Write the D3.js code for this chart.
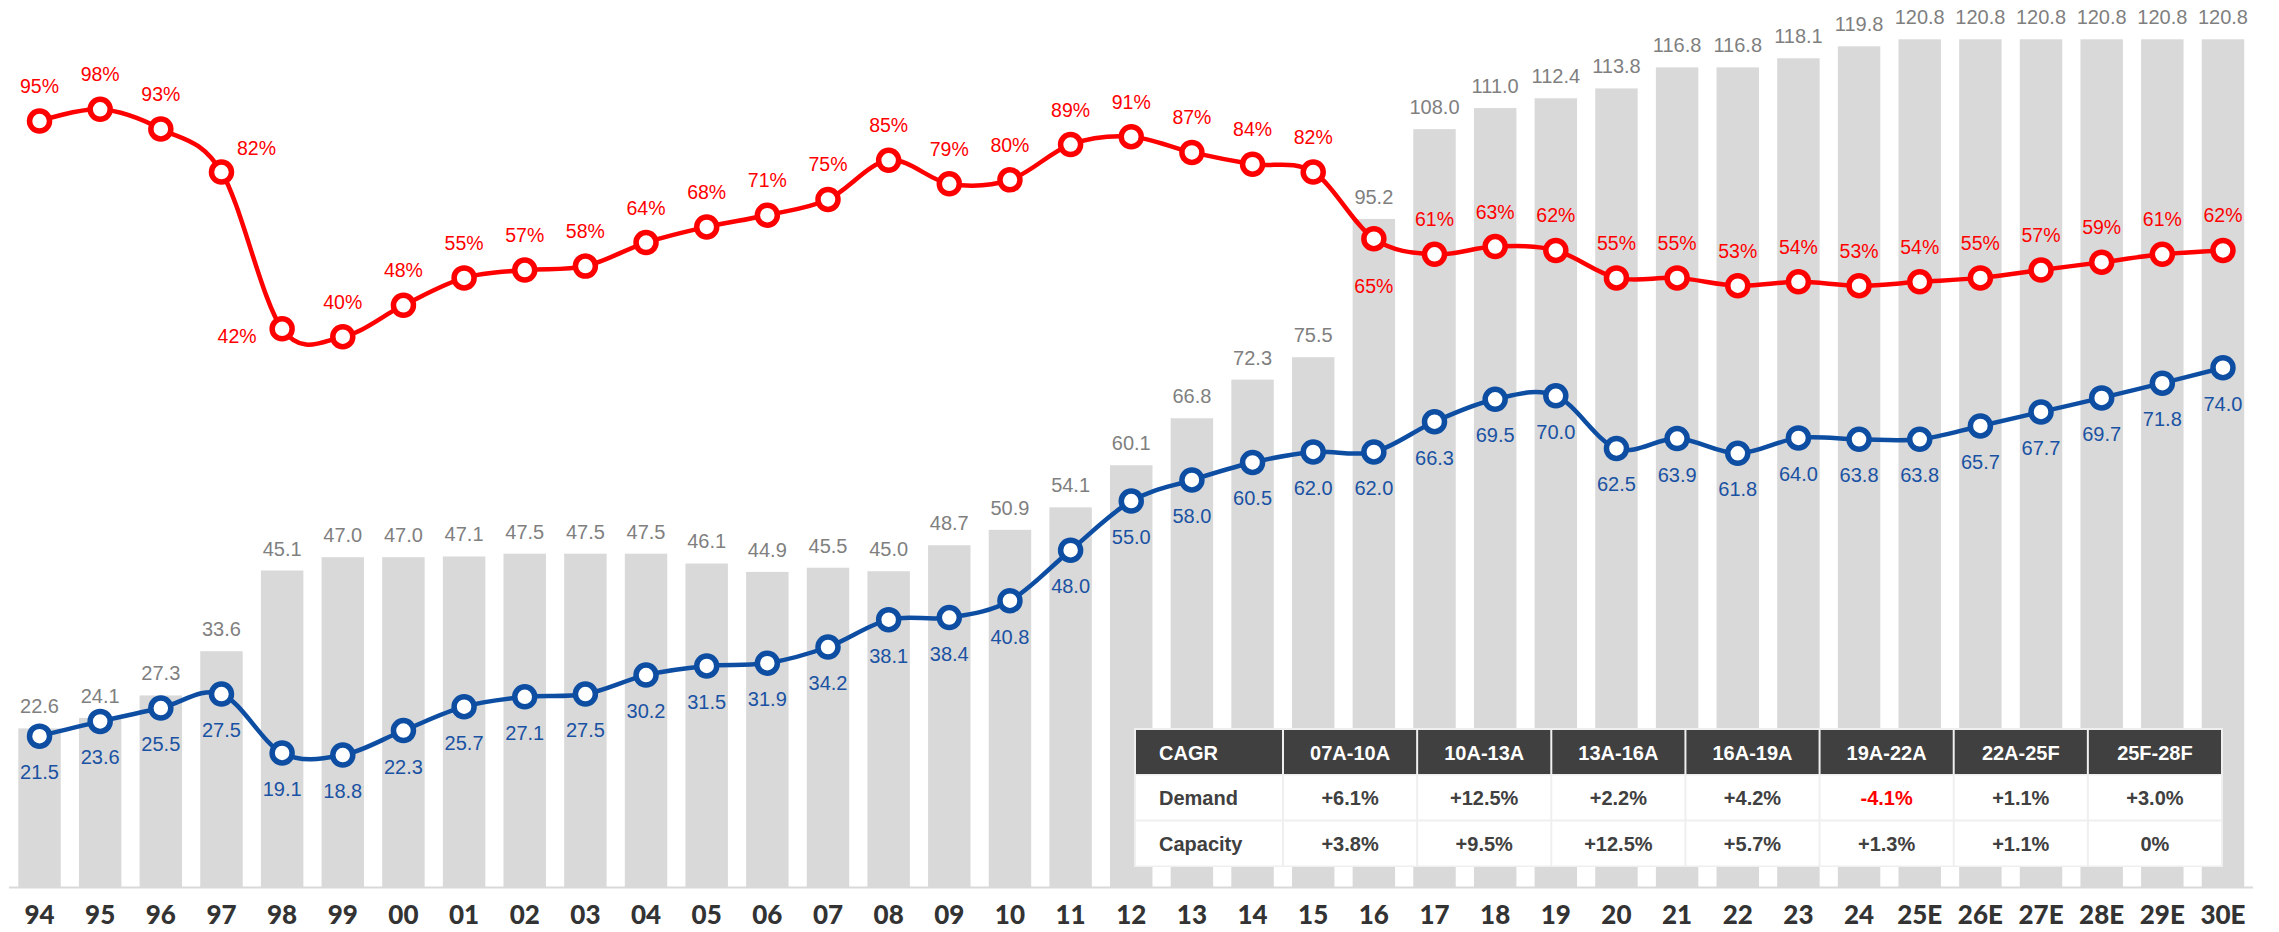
<!DOCTYPE html>
<html>
<head>
<meta charset="utf-8">
<title>Demand, capacity and utilization</title>
<style>
  body { margin: 0; background: #fff; }
  svg text { font-family: "Liberation Sans", Arial, sans-serif; }
  .xlab { font-family: Lato, "Liberation Sans", sans-serif; font-weight: 900; font-size: 26px; fill: #333; }
  .barlab { font-size: 20px; fill: #7f7f7f; }
  .demlab { font-size: 20px; fill: #1a52a3; }
  .utillab { font-size: 19.5px; fill: #ff0000; }
  .tbl { font-size: 20px; font-weight: bold; }
</style>
</head>
<body>
<script src="https://cdn.jsdelivr.net/npm/d3@7"></script>
<script>
// years on the x axis
const categories = ["94","95","96","97","98","99","00","01","02","03","04","05","06","07","08","09",
  "10","11","12","13","14","15","16","17","18","19","20","21","22","23","24",
  "25E","26E","27E","28E","29E","30E"];

// capacity (grey bars)
const capacity = [22.6,24.1,27.3,33.6,45.1,47.0,47.0,47.1,47.5,47.5,47.5,46.1,44.9,45.5,45.0,48.7,
  50.9,54.1,60.1,66.8,72.3,75.5,95.2,108.0,111.0,112.4,113.8,116.8,116.8,118.1,119.8,
  120.8,120.8,120.8,120.8,120.8,120.8];

// demand (blue line)
const demand = [21.5,23.6,25.5,27.5,19.1,18.8,22.3,25.7,27.1,27.5,30.2,31.5,31.9,34.2,38.1,38.4,
  40.8,48.0,55.0,58.0,60.5,62.0,62.0,66.3,69.5,70.0,62.5,63.9,61.8,64.0,63.8,
  63.8,65.7,67.7,69.7,71.8,74.0];

// utilization in % (red line)
const utilization = [95,98,93,82,42,40,48,55,57,58,64,68,71,75,85,79,
  80,89,91,87,84,82,65,61,63,62,55,55,53,54,53,
  54,55,57,59,61,62];

// CAGR table
const cagrPeriods = ["07A-10A","10A-13A","13A-16A","16A-19A","19A-22A","22A-25F","25F-28F"];
const demandCagr = ["+6.1%","+12.5%","+2.2%","+4.2%","-4.1%","+1.1%","+3.0%"];
const capacityCagr = ["+3.8%","+9.5%","+12.5%","+5.7%","+1.3%","+1.1%","0%"];

const W = 2279, H = 932;
const svg = d3.select("body").append("svg").attr("width", W).attr("height", H);

const x = d3.scaleBand().domain(categories).range([9.2, 2253.3])
  .paddingInner(0.3).paddingOuter(0.15);
const y = d3.scaleLinear().domain([0, 120.8]).range([887, 39.3]);
const yPct = d3.scaleLinear().domain([0, 98]).range([493.5, 109.3]);
const cx = d => x(d) + x.bandwidth() / 2;

// bars
svg.append("g").selectAll("rect").data(categories).join("rect")
  .attr("x", d => x(d)).attr("width", x.bandwidth())
  .attr("y", (d, i) => y(capacity[i]))
  .attr("height", (d, i) => y(0) - y(capacity[i]))
  .attr("fill", "#d9d9d9");

// baseline
svg.append("line").attr("x1", 9).attr("x2", 2253).attr("y1", y(0) + 0.5).attr("y2", y(0) + 0.5)
  .attr("stroke", "#d9d9d9").attr("stroke-width", 2);

// x labels
svg.append("g").selectAll("text").data(categories).join("text")
  .attr("class", "xlab").attr("x", d => cx(d)).attr("y", 924)
  .attr("text-anchor", "middle").text(d => d);

// bar labels
svg.append("g").selectAll("text").data(categories).join("text")
  .attr("class", "barlab").attr("x", d => cx(d)).attr("y", (d, i) => y(capacity[i]) - 15)
  .attr("text-anchor", "middle").text((d, i) => capacity[i].toFixed(1));

const curve = d3.curveCatmullRom.alpha(0);

function series(vals, scale, color) {
  const line = d3.line().x((d, i) => cx(categories[i])).y(d => scale(d)).curve(curve);
  svg.append("path").datum(vals).attr("d", line).attr("fill", "none")
    .attr("stroke", color).attr("stroke-width", 4.5);
  svg.append("g").selectAll("circle").data(vals).join("circle")
    .attr("cx", (d, i) => cx(categories[i])).attr("cy", d => scale(d))
    .attr("r", 10).attr("fill", "#fff").attr("stroke", color).attr("stroke-width", 5.5);
}

series(demand, y, "#0d4ea3");
series(utilization, yPct, "#ff0000");

// demand labels, below points
svg.append("g").selectAll("text").data(demand).join("text")
  .attr("class", "demlab").attr("x", (d, i) => cx(categories[i])).attr("y", d => y(d) + 43)
  .attr("text-anchor", "middle").text(d => d.toFixed(1));

// utilization labels, mostly above
const special = { 3: [35, -17], 4: [-45, 14], 22: [0, 54] };
svg.append("g").selectAll("text").data(utilization).join("text")
  .attr("class", "utillab")
  .attr("x", (d, i) => cx(categories[i]) + (special[i] ? special[i][0] : 0))
  .attr("y", (d, i) => yPct(d) + (special[i] ? special[i][1] : -28))
  .attr("text-anchor", "middle").text(d => d + "%");

// CAGR table
const tx = 1134, ty = 728, tw = 1089, th = 139;
const col1 = 148, colW = (tw - col1 - 2) / cagrPeriods.length;
const rowTops = [730, 775.5, 821.5], rowH = [44, 44, 44];
const tbl = svg.append("g").attr("class", "tbl");
tbl.append("rect").attr("x", tx).attr("y", ty).attr("width", tw).attr("height", th).attr("fill", "#efefef");

const rows = [["CAGR"].concat(cagrPeriods), ["Demand"].concat(demandCagr), ["Capacity"].concat(capacityCagr)];
rows.forEach((row, r) => {
  row.forEach((cell, c) => {
    const x0 = c === 0 ? tx + 2 : tx + 2 + col1 + (c - 1) * colW;
    const w = (c === 0 ? col1 : colW) - 2;
    tbl.append("rect").attr("x", x0).attr("y", rowTops[r]).attr("width", w).attr("height", rowH[r])
      .attr("fill", r === 0 ? "#404040" : "#fff");
    let fill = r === 0 ? "#fff" : "#404040";
    if (r === 1 && cell.startsWith("-")) fill = "#ff0000";
    tbl.append("text")
      .attr("x", c === 0 ? x0 + 23 : x0 + w / 2)
      .attr("y", rowTops[r] + rowH[r] / 2 + 7.5)
      .attr("text-anchor", c === 0 ? "start" : "middle")
      .attr("fill", fill).text(cell);
  });
});
</script>
</body>
</html>
